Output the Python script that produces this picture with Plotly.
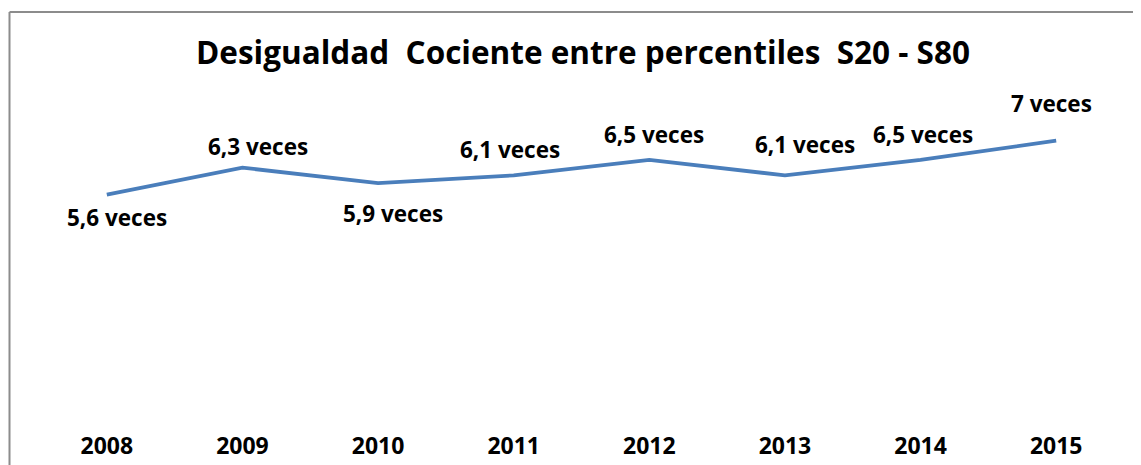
import plotly.graph_objects as go

years = ["2008", "2009", "2010", "2011", "2012", "2013", "2014", "2015"]
values = [5.6, 6.3, 5.9, 6.1, 6.5, 6.1, 6.5, 7.0]
labels = ["5,6 veces", "6,3 veces", "5,9 veces", "6,1 veces", "6,5 veces", "6,1 veces", "6,5 veces", "7 veces"]

# label placement (style only)
label_yshift = [-23, 21, -30, 26, 25, 31, 25, 37]
label_xshift = [10, 16, 15, -4, 5, 20, 2, -5]

FONT = "Open Sans"
OFF = 8  # page body margin offset

W, H = 1141, 465
plot_l, plot_r, plot_t, plot_b = 39 - OFF, 1124 - OFF, 102 - OFF, 411 - OFF
pw, ph = plot_r - plot_l, plot_b - plot_t

fig = go.Figure()
fig.add_trace(go.Scatter(
    x=years, y=values, mode="lines",
    line=dict(color="#4A7EBB", width=3.8),
    hoverinfo="skip", showlegend=False,
))

for i, (y, t, dy, dx) in enumerate(zip(values, labels, label_yshift, label_xshift)):
    fig.add_annotation(x=i, y=y, text=t, showarrow=False, yshift=dy, xshift=dx,
                       font=dict(family=FONT, size=22.5, color="#000000", weight="bold"))

# frame (left and top edges visible)
fx = (9.5 - OFF - plot_l) / pw
fy = (plot_b - (12 - OFF)) / ph
fig.add_shape(type="line", xref="paper", yref="paper",
              x0=fx, x1=1.2, y0=fy, y1=fy,
              line=dict(color="#8C8C8C", width=2))
fig.add_shape(type="line", xref="paper", yref="paper",
              x0=fx, x1=fx, y0=-0.5, y1=fy,
              line=dict(color="#8C8C8C", width=2))

fig.update_layout(
    width=W, height=H,
    margin=dict(l=plot_l, r=W - plot_r, t=plot_t, b=H - plot_b),
    paper_bgcolor="white", plot_bgcolor="white",
    title=dict(text="Desigualdad\u00a0\u00a0Cociente entre percentiles\u00a0\u00a0S20 - S80",
               x=(583 - OFF) / W, xanchor="center", y=1 - (53 - OFF) / H, yanchor="middle",
               font=dict(family=FONT, size=31.5, color="#000000", weight="bold")),
    xaxis=dict(type="category", range=[-0.5, 7.5], showgrid=False, zeroline=False,
               showline=False, ticks="",
               tickfont=dict(family=FONT, size=23, color="#000000", weight="bold"),
               ticklabelstandoff=19, fixedrange=True),
    yaxis=dict(range=[0, 8], visible=False, fixedrange=True),
)

fig.write_html("out.html")
